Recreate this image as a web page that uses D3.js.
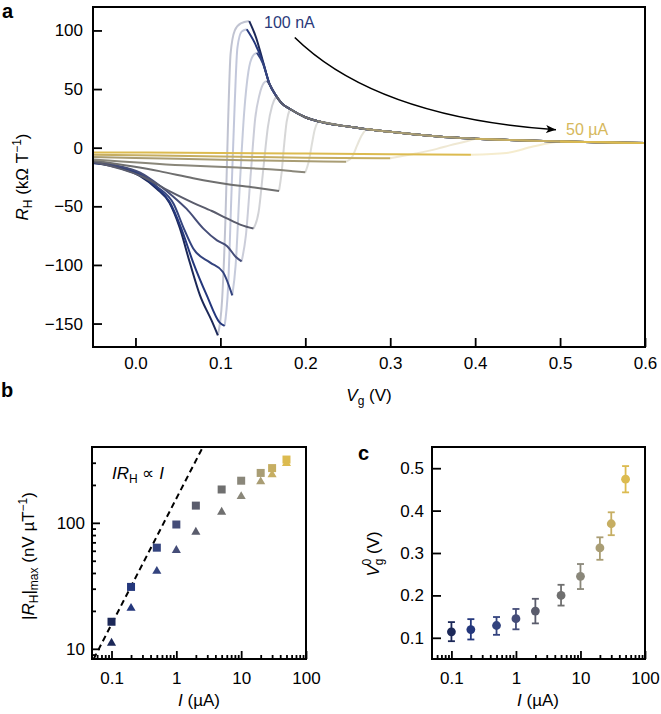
<!DOCTYPE html>
<html>
<head>
<meta charset="utf-8">
<script src="https://cdn.jsdelivr.net/npm/d3@7"></script>
<style>
  body { margin: 0; background: #fff; }
  text { font-family: "Liberation Sans", Arial, Helvetica, sans-serif; }
</style>
</head>
<body>
<svg id="fig" width="661" height="714"></svg>
<script>
// ---- data ----
var currents = [0.1, 0.2, 0.5, 1, 2, 5, 10, 20, 30, 50]; // µA
var currentColors = ["#1c2858", "#24377c", "#33437e", "#454d78", "#5a5c6c",
                     "#6f6f6f", "#8a877a", "#a99d74", "#c6ae62", "#dcbb50"];

// panel a: each R_H(Vg) trace split in lower branch, faint jump, upper branch
var lowBranch = [
  [[-0.05,-13],[-0.02,-17],[0.005,-24],[0.025,-35],[0.04,-47],[0.052,-68],[0.064,-98],[0.076,-126],[0.09,-148],[0.097,-160]],
  [[-0.05,-12.5],[-0.02,-16.5],[0.005,-23],[0.025,-34],[0.04,-46],[0.054,-69],[0.068,-98],[0.084,-126],[0.099,-149],[0.105,-152]],
  [[-0.05,-13],[-0.02,-16],[0.005,-22],[0.025,-33],[0.045,-48],[0.057,-69],[0.068,-86],[0.088,-98],[0.103,-106],[0.114,-126]],
  [[-0.05,-12.5],[-0.02,-15.5],[0.005,-21],[0.028,-32],[0.045,-42],[0.06,-52],[0.08,-69],[0.096,-79],[0.108,-84],[0.118,-93],[0.125,-97]],
  [[-0.05,-12],[0.009,-25],[0.04,-37],[0.068,-47],[0.09,-54],[0.107,-60],[0.125,-66],[0.139,-69]],
  [[-0.05,-11],[0.028,-20],[0.068,-26],[0.107,-31],[0.14,-34],[0.169,-37]],
  [[-0.05,-10],[0.056,-15],[0.12,-17],[0.162,-18.6],[0.185,-20],[0.2,-21]],
  [[-0.05,-8],[0.05,-9.5],[0.15,-11],[0.248,-12]],
  [[-0.05,-6],[0.1,-7.5],[0.2,-8.5],[0.3,-9]],
  [[-0.05,-4],[0.1,-4.5],[0.2,-5],[0.3,-5.5],[0.395,-6]]
];
var jumpBranch = [
  [[0.097,-160],[0.102,-130],[0.106,-60],[0.109,20],[0.112,80],[0.117,100],[0.124,106],[0.134,108]],
  [[0.105,-152],[0.109,-120],[0.113,-40],[0.117,40],[0.12,85],[0.125,99],[0.131,101]],
  [[0.114,-126],[0.118,-100],[0.123,-30],[0.128,30],[0.133,65],[0.138,78],[0.143,81]],
  [[0.125,-97],[0.13,-75],[0.136,-20],[0.141,25],[0.146,45],[0.151,55],[0.155,57]],
  [[0.139,-69],[0.145,-55],[0.151,-15],[0.156,18],[0.161,36],[0.166,44]],
  [[0.169,-37],[0.172,-22],[0.175,2],[0.178,22],[0.182,33]],
  [[0.2,-21],[0.204,-12],[0.208,4],[0.211,15],[0.215,22.5]],
  [[0.248,-12],[0.255,-8],[0.261,2],[0.266,10],[0.272,16]],
  [[0.3,-9],[0.33,-5],[0.355,-1],[0.37,2],[0.39,5.5],[0.4,7.6]],
  [[0.395,-6],[0.437,-4.5],[0.468,1],[0.488,4],[0.5,5.2]]
];
var peakBranch = [
  [[0.134,108],[0.142,94],[0.15,74]],
  [[0.131,101],[0.14,90],[0.15,73]],
  [[0.143,81],[0.15,72]],
  [[0.155,57]],
  [[0.166,44]],
  [[0.182,33]],
  [[0.215,22.5]],
  [[0.272,16]],
  [[0.4,7.6]],
  [[0.5,5.2]]
];
// common high-Vg decay that all traces settle onto
var tailRH = [[0.158,54],[0.165,45],[0.172,38],[0.182,33],[0.2,26],[0.215,22.5],[0.25,18],[0.27,16],
              [0.3,13.5],[0.33,11.3],[0.37,8.8],[0.4,7.6],[0.44,6.5],[0.5,5.2],[0.55,4.6],[0.6,4]];
var arrowPts = [[0.1876,94],[0.2835,26],[0.4952,15.3]]; // start, control, tip

// panel b
var rhSquares   = [16.4, 31, 63.5, 97, 137, 184, 216, 249, 272, 318];
var rhTriangles = [11.1, 21, 41.3, 60.5, 84.5, 121.7, 162, 212, 241, 296];
var guideLine   = [[0.053, 8.3], [2.54, 396]];

// panel c
var vg0   = [0.114, 0.1195, 0.129, 0.145, 0.163, 0.2, 0.245, 0.312, 0.369, 0.474];
var vg0Lo = [0.092, 0.096, 0.107, 0.12, 0.134, 0.176, 0.215, 0.284, 0.342, 0.443];
var vg0Hi = [0.137, 0.144, 0.149, 0.168, 0.192, 0.225, 0.274, 0.337, 0.396, 0.505];

var logMajor = [0.1, 1, 10, 100];
var logMinorX = [0.06,0.07,0.08,0.09,0.2,0.3,0.4,0.5,0.6,0.7,0.8,0.9,2,3,4,5,6,7,8,9,20,30,40,50,60,70,80,90];

// ---- drawing ----
var svg = d3.select("#fig");
var FS = 17;

function styleAxis(g) {
  g.select(".domain").remove();
  g.selectAll(".tick line").attr("stroke", "#000").attr("stroke-width", 1.8);
  g.selectAll(".tick text").attr("fill", "#000").style("font-size", FS + "px");
}
function frame(x0, y0, x1, y1) {
  svg.append("rect").attr("x", x0).attr("y", y0).attr("width", x1 - x0).attr("height", y1 - y0)
      .attr("fill", "none").attr("stroke", "#000").attr("stroke-width", 2);
}
function minus(d) { return d < 0 ? "\u2212" + Math.abs(d) : String(d); }
function letter(t, x, y) {
  svg.append("text").attr("x", x).attr("y", y).text(t)
      .style("font-size", "20px").style("font-weight", "bold");
}

// ===== panel a =====
var ax = d3.scaleLinear().domain([-0.05, 0.6]).range([93, 645]);
var ay = d3.scaleLinear().domain([-170, 120]).range([347, 7]);

svg.append("clipPath").attr("id", "clipA").append("rect")
    .attr("x", 93).attr("y", 7).attr("width", 552).attr("height", 340);

var lineA = d3.line().x(function (d) { return ax(d[0]); }).y(function (d) { return ay(d[1]); })
    .curve(d3.curveMonotoneX);

var gA = svg.append("g").attr("clip-path", "url(#clipA)");

// faint jumps underneath
gA.selectAll("path.jump").data(jumpBranch).enter().append("path")
    .attr("class", "jump")
    .attr("d", lineA)
    .attr("fill", "none")
    .attr("stroke", function (d, i) { return currentColors[i]; })
    .attr("stroke-opacity", 0.28)
    .attr("stroke-width", 2);

gA.selectAll("path.low").data(lowBranch).enter().append("path")
    .attr("class", "low")
    .attr("d", lineA)
    .attr("fill", "none")
    .attr("stroke", function (d, i) { return currentColors[i]; })
    .attr("stroke-width", 2);

var upper = peakBranch.map(function (pk) {
  var lastX = pk[pk.length - 1][0];
  return pk.concat(tailRH.filter(function (p) { return p[0] > lastX; }));
});
gA.selectAll("path.up").data(upper).enter().append("path")
    .attr("class", "up")
    .attr("d", lineA)
    .attr("fill", "none")
    .attr("stroke", function (d, i) { return currentColors[i]; })
    .attr("stroke-width", 2);

frame(93, 7, 645, 347);

svg.append("g").attr("transform", "translate(0,347)")
    .call(d3.axisBottom(ax).tickValues([0, 0.1, 0.2, 0.3, 0.4, 0.5, 0.6])
      .tickFormat(d3.format(".1f")).tickSize(-9).tickPadding(10))
    .call(styleAxis);
svg.append("g").attr("transform", "translate(93,0)")
    .call(d3.axisLeft(ay).tickValues([-150, -100, -50, 0, 50, 100])
      .tickFormat(minus).tickSize(-9).tickPadding(10))
    .call(styleAxis);

// arrow
svg.append("defs").append("marker").attr("id", "head")
    .attr("markerUnits", "userSpaceOnUse").attr("markerWidth", 12).attr("markerHeight", 10)
    .attr("refX", 10).attr("refY", 4).attr("orient", "auto")
  .append("path").attr("d", "M0,0 L10,4 L0,8 L2.5,4 Z").attr("fill", "#000");
var ap = d3.path();
ap.moveTo(ax(arrowPts[0][0]), ay(arrowPts[0][1]));
ap.quadraticCurveTo(ax(arrowPts[1][0]), ay(arrowPts[1][1]), ax(arrowPts[2][0]), ay(arrowPts[2][1]));
svg.append("path").attr("d", ap.toString()).attr("fill", "none")
    .attr("stroke", "#000").attr("stroke-width", 1.6).attr("marker-end", "url(#head)");

svg.append("text").attr("x", 264).attr("y", 28).text("100 nA")
    .attr("fill", "#2a3a7a").style("font-size", "16px");
svg.append("text").attr("x", 566).attr("y", 135).text("50 \u00b5A")
    .attr("fill", "#d6b85c").style("font-size", "16px");

// axis titles a
var tA = svg.append("text").attr("text-anchor", "middle")
    .attr("transform", "translate(28,177) rotate(-90)").style("font-size", FS + "px");
tA.append("tspan").text("R").style("font-style", "italic");
tA.append("tspan").text("H").style("font-size", "12px").attr("dy", 4);
tA.append("tspan").text(" (k\u03a9 T").attr("dy", -4);
tA.append("tspan").text("\u22121").style("font-size", "12px").attr("dy", -7);
tA.append("tspan").text(")").attr("dy", 7);

var xA = svg.append("text").attr("text-anchor", "middle").attr("x", 369).attr("y", 401)
    .style("font-size", FS + "px");
xA.append("tspan").text("V").style("font-style", "italic");
xA.append("tspan").text("g").style("font-size", "12px").attr("dy", 4);
xA.append("tspan").text(" (V)").attr("dy", -4);

letter("a", 2, 18);

// ===== panel b =====
var bx = d3.scaleLog().domain([0.05, 100]).range([92, 306]);
var by = d3.scaleLog().domain([8.3, 400]).range([659, 447]);

svg.append("clipPath").attr("id", "clipB").append("rect")
    .attr("x", 92).attr("y", 447).attr("width", 214).attr("height", 212);

svg.append("path").datum(guideLine)
    .attr("clip-path", "url(#clipB)")
    .attr("d", d3.line().x(function (d) { return bx(d[0]); }).y(function (d) { return by(d[1]); }))
    .attr("fill", "none").attr("stroke", "#000").attr("stroke-width", 2)
    .attr("stroke-dasharray", "6,4");

svg.append("g").selectAll("path").data(currents).enter().append("path")
    .attr("transform", function (d, i) { return "translate(" + bx(d) + "," + by(rhTriangles[i]) + ")"; })
    .attr("d", d3.symbol().type(d3.symbolTriangle).size(36))
    .attr("fill", function (d, i) { return currentColors[i]; });
svg.append("g").selectAll("rect").data(currents).enter().append("rect")
    .attr("x", function (d) { return bx(d) - 4; })
    .attr("y", function (d, i) { return by(rhSquares[i]) - 4; })
    .attr("width", 8).attr("height", 8)
    .attr("fill", function (d, i) { return currentColors[i]; });

frame(92, 447, 306, 659);

svg.append("g").attr("transform", "translate(0,659)")
    .call(d3.axisBottom(bx).tickValues(logMajor).tickFormat(d3.format("~g")).tickSize(-8).tickPadding(13))
    .call(styleAxis);
svg.append("g").attr("transform", "translate(0,659)")
    .call(d3.axisBottom(bx).tickValues(logMinorX).tickFormat("").tickSize(-4))
    .call(styleAxis);
svg.append("g").attr("transform", "translate(92,0)")
    .call(d3.axisLeft(by).tickValues([10, 100]).tickFormat(d3.format("~g")).tickSize(-8).tickPadding(7))
    .call(styleAxis);
svg.append("g").attr("transform", "translate(92,0)")
    .call(d3.axisLeft(by).tickValues([9, 20, 30, 40, 50, 60, 70, 80, 90, 200, 300]).tickFormat("").tickSize(-4))
    .call(styleAxis);

var ann = svg.append("text").attr("x", 112).attr("y", 479).style("font-size", FS + "px");
ann.append("tspan").text("IR").style("font-style", "italic");
ann.append("tspan").text("H").style("font-size", "12px").attr("dy", 4);
ann.append("tspan").text(" \u221d ").attr("dy", -4);
ann.append("tspan").text("I").style("font-style", "italic");

var yB = svg.append("text").attr("text-anchor", "middle")
    .attr("transform", "translate(34,556) rotate(-90)").style("font-size", FS + "px");
yB.append("tspan").text("|");
yB.append("tspan").text("R").style("font-style", "italic");
yB.append("tspan").text("H").style("font-size", "12px").attr("dy", 4);
yB.append("tspan").text("|").attr("dy", -4);
yB.append("tspan").text("max").style("font-size", "12px").attr("dy", 4);
yB.append("tspan").text(" (nV \u00b5T").attr("dy", -4);
yB.append("tspan").text("\u22121").style("font-size", "12px").attr("dy", -7);
yB.append("tspan").text(")").attr("dy", 7);

function xLabelI(cx) {
  var t = svg.append("text").attr("text-anchor", "middle").attr("x", cx).attr("y", 706)
      .style("font-size", FS + "px");
  t.append("tspan").text("I").style("font-style", "italic");
  t.append("tspan").text(" (\u00b5A)");
}
xLabelI(199);
letter("b", 1, 397);

// ===== panel c =====
var cx = d3.scaleLog().domain([0.05, 100]).range([432, 645]);
var cy = d3.scaleLinear().domain([0.05, 0.55]).range([659, 447]);

frame(432, 447, 645, 659);

var gC = svg.append("g");
gC.selectAll("line.err").data(currents).enter().append("line")
    .attr("x1", function (d) { return cx(d); }).attr("x2", function (d) { return cx(d); })
    .attr("y1", function (d, i) { return cy(vg0Lo[i]); })
    .attr("y2", function (d, i) { return cy(vg0Hi[i]); })
    .attr("stroke", function (d, i) { return currentColors[i]; }).attr("stroke-width", 1.8);
[vg0Lo, vg0Hi].forEach(function (arr) {
  gC.selectAll(null).data(currents).enter().append("line")
      .attr("x1", function (d) { return cx(d) - 3.5; }).attr("x2", function (d) { return cx(d) + 3.5; })
      .attr("y1", function (d, i) { return cy(arr[i]); })
      .attr("y2", function (d, i) { return cy(arr[i]); })
      .attr("stroke", function (d, i) { return currentColors[i]; }).attr("stroke-width", 1.8);
});
gC.selectAll("circle").data(currents).enter().append("circle")
    .attr("cx", function (d) { return cx(d); })
    .attr("cy", function (d, i) { return cy(vg0[i]); })
    .attr("r", 4.4)
    .attr("fill", function (d, i) { return currentColors[i]; });

svg.append("g").attr("transform", "translate(0,659)")
    .call(d3.axisBottom(cx).tickValues(logMajor).tickFormat(d3.format("~g")).tickSize(-8).tickPadding(13))
    .call(styleAxis);
svg.append("g").attr("transform", "translate(0,659)")
    .call(d3.axisBottom(cx).tickValues(logMinorX).tickFormat("").tickSize(-4))
    .call(styleAxis);
svg.append("g").attr("transform", "translate(432,0)")
    .call(d3.axisLeft(cy).tickValues([0.1, 0.2, 0.3, 0.4, 0.5]).tickFormat(d3.format(".1f")).tickSize(-9).tickPadding(8))
    .call(styleAxis);

var yC = svg.append("text").attr("text-anchor", "middle")
    .attr("transform", "translate(379,554) rotate(-90)").style("font-size", FS + "px");
yC.append("tspan").text("V").style("font-style", "italic");
yC.append("tspan").text("g").style("font-size", "12px").attr("dy", 4);
yC.append("tspan").text("0").style("font-size", "12px").attr("dx", -7).attr("dy", -12);
yC.append("tspan").text(" (V)").attr("dy", 8);

xLabelI(538);
letter("c", 358, 460);
</script>
</body>
</html>
